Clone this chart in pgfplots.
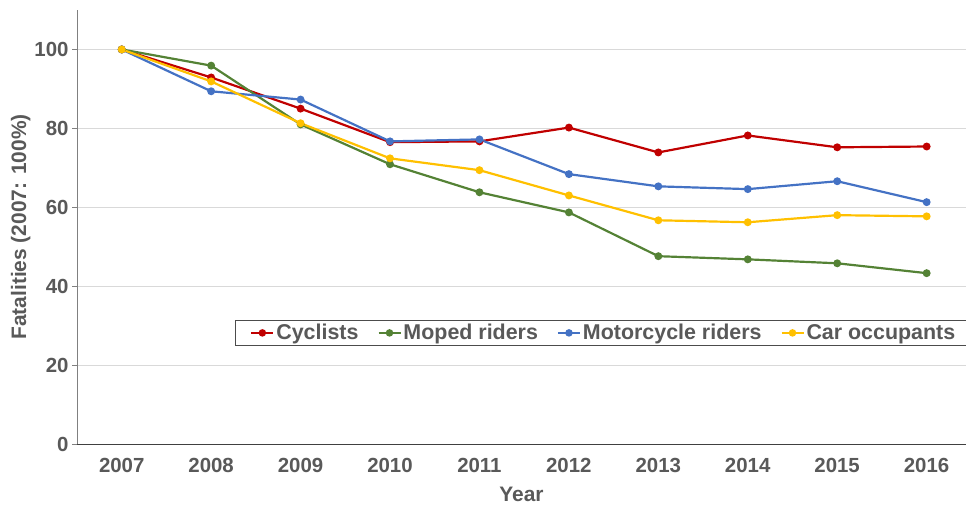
\documentclass[border=0pt]{standalone}
\usepackage{pgfplots}
\pgfplotsset{compat=1.18}
\usepackage{fontspec}
\setmainfont{Liberation Sans}
\definecolor{txt}{HTML}{595959}
\definecolor{cred}{HTML}{C00000}
\definecolor{cgreen}{HTML}{548235}
\definecolor{cblue}{HTML}{4472C4}
\definecolor{cyel}{HTML}{FFC000}
\definecolor{gridc}{HTML}{D9D9D9}
\begin{document}
\begin{tikzpicture}
\path[use as bounding box] (-77bp,-61bp) rectangle (889bp,434bp+10bp);
\begin{axis}[
  at={(0,0)}, anchor=south west,
  scale only axis, width=889bp, height=434bp,
  xmin=2006.5, xmax=2016.44, ymin=0, ymax=110,
  xtick={2007,...,2016},
  xticklabel style={/pgf/number format/1000 sep={}, yshift=-6bp},
  ytick={0,20,...,100},
  /pgf/number format/assume math mode=true,
  ticklabel style={font=\fontsize{20.5}{22}\selectfont\bfseries, text=txt},
  ymajorgrids, grid style={gridc, line width=1pt},
  axis x line*=bottom, axis y line*=left,
  x axis line style={black!75, line width=1pt, -},
  y axis line style={black!50, line width=1pt, -},
  major x tick style={draw=none},
  major y tick style={black!50, line width=1pt},
  tick align=outside, major tick length=5bp,
  xlabel={Year}, ylabel={Fatalities (2007: 100\%)},
  label style={font=\fontsize{21}{23}\selectfont\bfseries, text=txt},
  xlabel style={yshift=-7bp},
  ylabel style={yshift=-3bp},
  legend columns=4,
  legend style={at={(0.1777,0.2857)}, anchor=north west, draw=black!70, line width=0.8pt,
    font=\fontsize{21.5}{23}\selectfont\bfseries, text=txt,
    /tikz/every even column/.append style={column sep=17bp},
    inner xsep=15bp, inner ysep=2bp},
  legend image code/.code={\draw[#1, line width=2pt] (0bp,0bp) -- (22bp,0bp); \fill[#1] (11bp,0bp) circle (2.6bp);},
  every axis plot/.append style={line width=2.2pt, mark=*, mark size=2.8bp},
]
\addplot[cred, mark options={fill=cred, draw=cred}] coordinates {(2007,100) (2008,92.9) (2009,85.0) (2010,76.5) (2011,76.7) (2012,80.2) (2013,73.9) (2014,78.2) (2015,75.2) (2016,75.4)};
\addlegendentry{Cyclists}
\addplot[cgreen, mark options={fill=cgreen, draw=cgreen}] coordinates {(2007,100) (2008,95.9) (2009,81.0) (2010,70.9) (2011,63.8) (2012,58.7) (2013,47.6) (2014,46.8) (2015,45.8) (2016,43.3)};
\addlegendentry{Moped riders}
\addplot[cblue, mark options={fill=cblue, draw=cblue}] coordinates {(2007,100) (2008,89.4) (2009,87.3) (2010,76.7) (2011,77.2) (2012,68.4) (2013,65.3) (2014,64.6) (2015,66.6) (2016,61.3)};
\addlegendentry{Motorcycle riders}
\addplot[cyel, mark options={fill=cyel, draw=cyel}] coordinates {(2007,100) (2008,91.9) (2009,81.3) (2010,72.4) (2011,69.4) (2012,63.0) (2013,56.7) (2014,56.2) (2015,58.0) (2016,57.7)};
\addlegendentry{Car occupants}
\end{axis}
\end{tikzpicture}
\end{document}
